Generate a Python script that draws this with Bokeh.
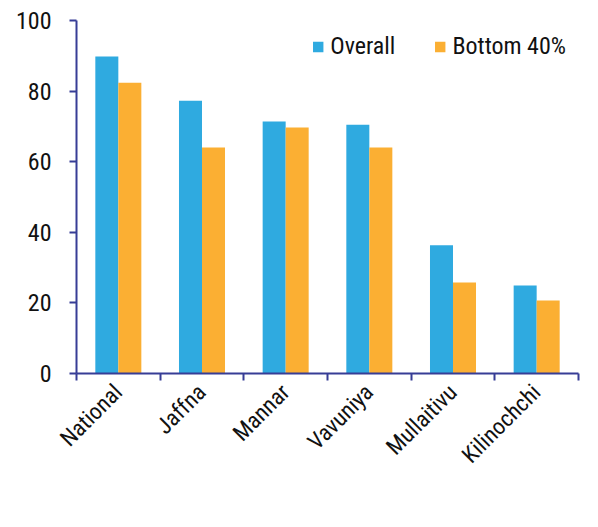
import numpy as np
from bokeh.plotting import figure
from bokeh.models import Range1d, FixedTicker, Legend, LegendItem, ColumnDataSource
from bokeh.embed import file_html
from bokeh.resources import INLINE

categories = ["National", "Jaffna", "Mannar", "Vavuniya", "Mullaitivu", "Kilinochchi"]
overall = [89.8, 77.3, 71.4, 70.5, 36.3, 24.9]
bottom40 = [82.4, 64.0, 69.7, 64.0, 25.8, 20.7]
y_ticks = [0, 20, 40, 60, 80, 100]

FONT = "'Liberation Sans Narrow', 'Roboto Condensed', 'DejaVu Sans Condensed', sans-serif"
AXIS_COLOR = "#373D96"
BLUE = "#2FAAE0"
ORANGE = "#FBAF33"

n = len(categories)
centers = np.arange(n) + 0.5
bw = 0.275

p = figure(width=598, height=527, output_backend="svg", toolbar_location=None,
           x_range=Range1d(0, n), y_range=Range1d(0, 100),
           min_border_left=76, min_border_right=20, min_border_top=20, min_border_bottom=154)
p.outline_line_color = None
p.xgrid.grid_line_color = None
p.ygrid.grid_line_color = None

src_o = ColumnDataSource(dict(x=centers - bw / 2, top=overall))
src_b = ColumnDataSource(dict(x=centers + bw / 2, top=bottom40))
r1 = p.vbar(x="x", top="top", width=bw, source=src_o, fill_color=BLUE, line_color=None)
r2 = p.vbar(x="x", top="top", width=bw, source=src_b, fill_color=ORANGE, line_color=None)

# x axis
xa = p.xaxis[0]
xa.ticker = FixedTicker(ticks=list(centers), minor_ticks=list(range(n + 1)))
xa.major_label_overrides = {float(c): name for c, name in zip(centers, categories)}
xa.major_tick_out = 0
xa.major_tick_in = 0
xa.minor_tick_out = 7
xa.minor_tick_in = 0
xa.minor_tick_line_color = AXIS_COLOR
xa.minor_tick_line_width = 2
xa.axis_line_color = AXIS_COLOR
xa.axis_line_width = 2
xa.major_label_orientation = np.pi / 4
xa.major_label_text_font = FONT
xa.major_label_text_font_size = "23px"
xa.major_label_text_color = "#111111"
xa.major_label_standoff = 8

# y axis
ya = p.yaxis[0]
ya.ticker = FixedTicker(ticks=y_ticks)
ya.major_tick_out = 7
ya.major_tick_in = 0
ya.major_tick_line_color = AXIS_COLOR
ya.major_tick_line_width = 2
ya.minor_tick_line_color = None
ya.axis_line_color = AXIS_COLOR
ya.axis_line_width = 2
ya.major_label_text_font = FONT
ya.major_label_text_font_size = "24px"
ya.major_label_text_color = "#111111"
ya.major_label_standoff = 18

legend = Legend(items=[LegendItem(label="Overall", renderers=[r1]),
                       LegendItem(label="Bottom 40%", renderers=[r2])],
                orientation="horizontal", location="top_right",
                label_text_font=FONT, label_text_font_size="24px", label_text_color="#111111",
                glyph_width=13, glyph_height=13, spacing=38, label_standoff=6,
                border_line_color=None, background_fill_alpha=0, margin=12, padding=0)
p.add_layout(legend, "center")

open("out.html", "w").write(file_html(p, INLINE))
